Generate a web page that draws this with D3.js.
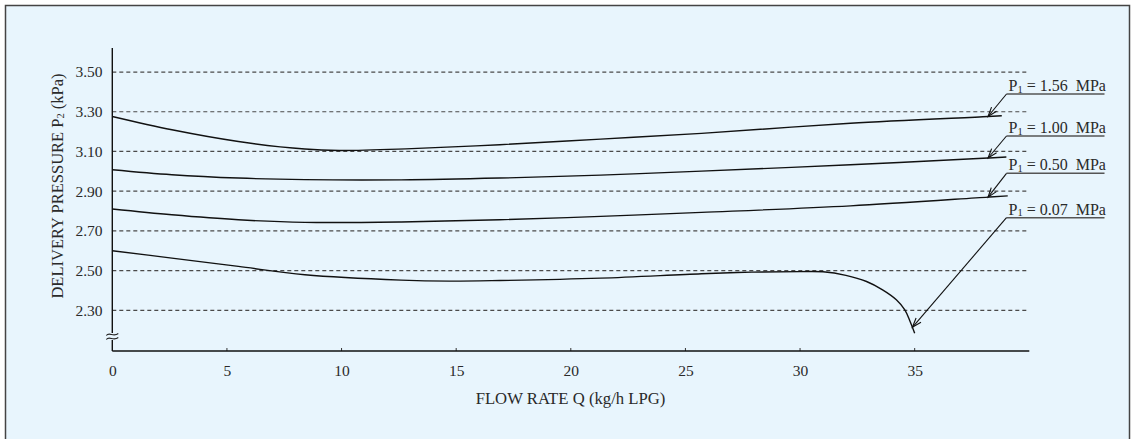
<!DOCTYPE html>
<html>
<head>
<meta charset="utf-8">
<script src="https://cdn.jsdelivr.net/npm/d3@7/dist/d3.min.js"></script>
<style>
  html, body { margin: 0; padding: 0; background: #ffffff; }
  svg { display: block; }
  text { font-family: "Liberation Serif", "Times New Roman", serif; fill: #2a2a2a; }
</style>
</head>
<body>
<svg id="chart" width="1135" height="439"></svg>
<script>
// ---------- data ----------
const qTicks = [0, 5, 10, 15, 20, 25, 30, 35];
const pTicks = [2.30, 2.50, 2.70, 2.90, 3.10, 3.30, 3.50];
const seriesNames = ["1.56", "1.00", "0.50", "0.07"];

const q156 = [0, 2.6, 5.5, 8.4, 9.9, 12.8, 16.9, 21.3, 25.7, 32.2, 38.2, 38.8];
const p156 = [3.276, 3.209, 3.150, 3.112, 3.105, 3.113, 3.134, 3.162, 3.191, 3.242, 3.276, 3.280];

const q100 = [0, 2.6, 5.5, 8.4, 12.6, 16.9, 21.3, 25.7, 32.2, 38.2, 39.0];
const p100 = [3.008, 2.983, 2.966, 2.958, 2.957, 2.966, 2.981, 3.001, 3.033, 3.067, 3.072];

const q050 = [0, 2.6, 5.5, 8.4, 12.6, 16.9, 21.3, 25.7, 32.2, 38.2, 39.06];
const p050 = [2.810, 2.781, 2.756, 2.743, 2.745, 2.756, 2.773, 2.793, 2.826, 2.870, 2.876];

const q007 = [0, 2.6, 5.5, 8.4, 12.6, 14.7, 16.9, 21.3, 25.7, 27.9, 30.0, 31.0, 32.0, 32.9, 33.6, 34.2, 34.57, 34.8, 35.0];
const p007 = [2.600, 2.563, 2.521, 2.479, 2.452, 2.447, 2.450, 2.462, 2.484, 2.492, 2.495, 2.494, 2.476, 2.445, 2.403, 2.353, 2.302, 2.244, 2.185];

const labelTipQ = [38.2, 38.2, 38.2, 34.9];

// ---------- layout ----------
const svg = d3.select("#chart");
const bg = "#e8f5fd";

svg.append("rect").attr("x", 5.5).attr("y", 5.5).attr("width", 1124).attr("height", 445)
  .attr("fill", bg).attr("stroke", "#444").attr("stroke-width", 1.5);

const x = d3.scaleLinear().domain([0, 40]).range([112.3, 1029.3]);
const y = d3.scaleLinear().domain([2.095, 3.621]).range([351, 48]);

// grid lines
svg.append("g").selectAll("line").data(pTicks).join("line")
  .attr("x1", x(0)).attr("x2", x(40))
  .attr("y1", d => y(d)).attr("y2", d => y(d))
  .attr("stroke", "#4a4a4a").attr("stroke-width", 1.2)
  .attr("stroke-dasharray", "4,3");

// y tick labels
svg.append("g").selectAll("text").data(pTicks).join("text")
  .attr("x", 102.5).attr("y", d => y(d)).attr("dy", "0.35em")
  .attr("text-anchor", "end").style("font-size", "15.5px")
  .text(d => d.toFixed(2));

// x axis
const xAxis = d3.axisBottom(x).tickValues(qTicks).tickSize(0).tickFormat(d3.format("d"));
const gx = svg.append("g").attr("transform", `translate(0,${y(2.095)})`).call(xAxis);
gx.attr("font-family", null).attr("font-size", null);
gx.select(".domain").remove();
gx.selectAll("text").attr("dy", null).attr("y", 24.5)
  .style("font-size", "15.5px").attr("fill", "#2a2a2a");
// small inward ticks
svg.append("g").selectAll("line").data(qTicks.slice(1)).join("line")
  .attr("x1", d => x(d)).attr("x2", d => x(d))
  .attr("y1", y(2.095)).attr("y2", y(2.095) - 3)
  .attr("stroke", "#333").attr("stroke-width", 1);

// axis lines
svg.append("line").attr("x1", x(0)).attr("x2", x(40)).attr("y1", y(2.095)).attr("y2", y(2.095))
  .attr("stroke", "#111").attr("stroke-width", 1.4);
svg.append("line").attr("x1", x(0)).attr("x2", x(0)).attr("y1", y(3.621)).attr("y2", y(2.095))
  .attr("stroke", "#111").attr("stroke-width", 1.4);

// axis break mark
const bx = x(0), by = 336.5;
svg.append("rect").attr("x", bx - 7).attr("y", by - 3.5).attr("width", 14).attr("height", 7).attr("fill", bg);
[-2, 2].forEach(o => {
  svg.append("path")
    .attr("d", `M${bx - 6},${by + o + 1} C${bx - 3},${by + o - 3} ${bx + 1},${by + o + 3} ${bx + 6},${by + o - 1}`)
    .attr("fill", "none").attr("stroke", "#222").attr("stroke-width", 1.1);
});

// curves
const seriesList = [[q156, p156], [q100, p100], [q050, p050], [q007, p007]];
const line = d3.line().x(d => x(d[0])).y(d => y(d[1])).curve(d3.curveCatmullRom.alpha(0.5));
seriesList.forEach(([qs, ps]) => {
  svg.append("path").datum(qs.map((q, i) => [q, ps[i]]))
    .attr("d", line).attr("fill", "none").attr("stroke", "#111").attr("stroke-width", 1.4);
});

// labels with leader arrows
const labelY = [94, 136, 173.3, 217.7];
function valueAt(qs, ps, q) {
  for (let i = 1; i < qs.length; i++) {
    if (q <= qs[i]) {
      const t = (q - qs[i - 1]) / (qs[i] - qs[i - 1]);
      return ps[i - 1] + t * (ps[i] - ps[i - 1]);
    }
  }
  return ps[ps.length - 1];
}
seriesList.forEach(([qs, ps], i) => {
  const tx = x(labelTipQ[i]), ty = y(valueAt(qs, ps, labelTipQ[i]));
  const lx = 1006.5, ly = labelY[i];
  svg.append("line").attr("x1", lx).attr("x2", lx + 98).attr("y1", ly).attr("y2", ly)
    .attr("stroke", "#555").attr("stroke-width", 1.5);
  svg.append("line").attr("x1", lx).attr("y1", ly).attr("x2", tx).attr("y2", ty)
    .attr("stroke", "#111").attr("stroke-width", 1.1);
  const ang = Math.atan2(ly - ty, lx - tx);
  const L = 10, a = 0.33;
  const p1 = [tx + L * Math.cos(ang + a), ty + L * Math.sin(ang + a)];
  const p2 = [tx + L * Math.cos(ang - a), ty + L * Math.sin(ang - a)];
  svg.append("path").attr("d", `M${p1[0]},${p1[1]} L${tx},${ty} L${p2[0]},${p2[1]}`)
    .attr("fill", "none").attr("stroke", "#111").attr("stroke-width", 1.1);
  const t = svg.append("text").attr("x", lx + 2).attr("y", ly - 3).style("font-size", "16px");
  t.append("tspan").text("P");
  t.append("tspan").attr("dy", 1.5).style("font-size", "10.5px").text("1");
  t.append("tspan").attr("dy", -1.5).text(` = ${seriesNames[i]}\u2002MPa`);
});

// axis titles
svg.append("text").attr("x", 570.5).attr("y", 403.5)
  .attr("text-anchor", "middle").style("font-size", "16.7px")
  .text("FLOW RATE Q (kg/h LPG)");

const yt = svg.append("text").attr("transform", "translate(62.5,186) rotate(-90)")
  .attr("text-anchor", "middle").style("font-size", "16.5px");
yt.append("tspan").text("DELIVERY PRESSURE P");
yt.append("tspan").attr("dy", 1.5).style("font-size", "10.5px").text("2");
yt.append("tspan").attr("dy", -1.5).text(" (kPa)");
</script>
</body>
</html>
